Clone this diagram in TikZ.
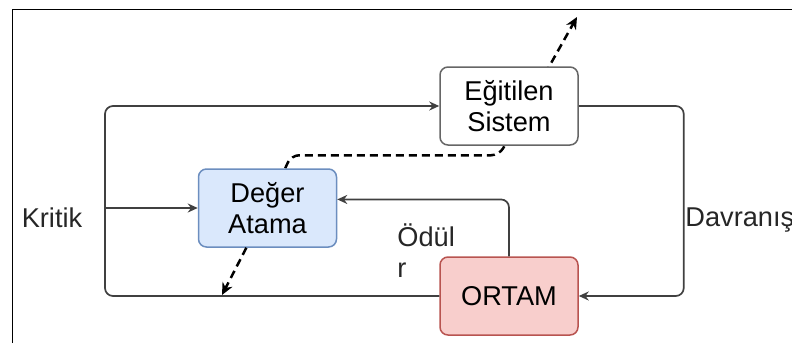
\documentclass[tikz,border=0pt]{standalone}
\usepackage{fontspec}
\setmainfont{Liberation Sans}
\usetikzlibrary{arrows.meta,backgrounds}

\begin{document}
\begin{tikzpicture}[x=0.5pt,y=-0.5pt,
  font=\fontsize{13.6}{15.5}\selectfont,
  box/.style={draw=black!60,rounded corners=4pt,line width=0.75pt,
    minimum width=69pt,minimum height=39pt,align=center,fill=white},
  conn/.style={draw=black!75,line width=0.85pt,rounded corners=4pt},
  arr/.style={-{Stealth[length=5pt,width=4.5pt]}},
  dashline/.style={line width=1.25pt,dash pattern=on 4pt off 2.5pt,
    -{Stealth[length=6pt,width=5.5pt]}},
  lbl/.style={inner sep=0pt,text=black!85}]
  \useasboundingbox (0,0) rectangle (792,343);
  \draw[line width=0.5pt] (12,343) -- (12,9) -- (792,9);

  \node[box] (sys) at (509,106) {Eğitilen\\Sistem};
  \node[box,fill={rgb,255:red,218;green,232;blue,252},
    draw={rgb,255:red,108;green,142;blue,191}] (deger) at (267.5,208) {Değer\\Atama};
  \node[box,fill={rgb,255:red,248;green,206;blue,204},
    draw={rgb,255:red,184;green,84;blue,80}] (ortam) at (509,296) {ORTAM};

  \coordinate (leftbus) at (105,208);
  \coordinate (tipA) at (577,17);
  \coordinate (tipB) at (222,295);

  \node[lbl,anchor=base] (kritik) at (52,227) {Kritik};
  \node[lbl,anchor=base west] (davranis) at (685,226) {Davranış};
  \node[lbl,anchor=north west,align=left] (odul) at (397,223) {Ödül\\r};

  % loops
  \draw[conn,arr] (ortam.west) -| (leftbus) |- (sys.west);
  \draw[conn,arr] (leftbus) -- (deger.west);
  \draw[conn,arr] (sys.east) -- ++(105,0) |- (ortam.east);
  \draw[conn,arr] (ortam.north) |- (deger.7);

  \begin{scope}[on background layer]
    \draw[dashline,rounded corners=4pt] (deger.66) -- ++(6,-13) -- ++(208,0) -- (tipA);
  \end{scope}
  \draw[dashline] (deger.242) -- (tipB);
\end{tikzpicture}
\end{document}
